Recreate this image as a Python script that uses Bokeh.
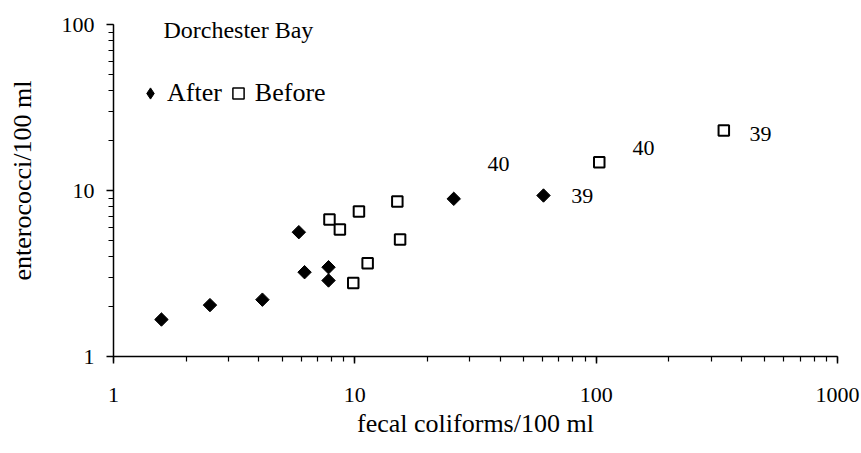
import numpy as np
from bokeh.plotting import figure
from bokeh.models import (ColumnDataSource, Range1d, NumeralTickFormatter, Legend, LegendItem,
                          Label, LabelSet)
from bokeh.embed import file_html
from bokeh.resources import INLINE

# Data
after_fc = [1.58, 2.51, 4.14, 5.86, 6.19, 7.78, 7.78, 25.7, 60.5]
after_ent = [1.67, 2.04, 2.20, 5.61, 3.22, 3.45, 2.87, 8.91, 9.33]

before_fc = [7.85, 8.67, 10.4, 15.0, 15.4, 11.3, 9.85, 103, 338]
before_ent = [6.69, 5.82, 7.47, 8.58, 5.07, 3.65, 2.77, 14.8, 23.0]

note_text = ["40", "39", "40", "39"]
note_x = [39.4, 87.6, 157, 480]
note_y = [14.5, 9.24, 18.0, 22.0]

series_names = ["After", "Before"]
title_text = "Dorchester Bay"
x_label = "fecal coliforms/100 ml"
y_label = "enterococci/100 ml"

FONT = "Liberation Serif"

p = figure(width=861, height=453, x_axis_type="log", y_axis_type="log",
           x_range=Range1d(1, 1000), y_range=Range1d(1, 132),
           output_backend="svg", toolbar_location=None,
           min_border_left=113, min_border_right=24, min_border_top=4, min_border_bottom=97)
p.outline_line_color = None
p.xgrid.visible = False
p.ygrid.visible = False
p.background_fill_color = "white"
p.border_fill_color = "white"
p.yaxis.bounds = (1, 100)

for ax in (p.xaxis, p.yaxis):
    ax.formatter = NumeralTickFormatter(format="0")
    ax.major_label_text_font = FONT
    ax.major_label_text_font_size = "22px"
    ax.major_label_text_color = "black"
    ax.axis_label_text_font = FONT
    ax.axis_label_text_font_size = "26px"
    ax.axis_label_text_font_style = "normal"
    ax.axis_label_text_color = "black"
    ax.axis_line_color = "black"
    ax.axis_line_width = 1.5
    ax.major_tick_line_color = "black"
    ax.minor_tick_line_color = "black"
    ax.major_tick_line_width = 1.5
    ax.minor_tick_line_width = 1.2
    ax.major_tick_in = 0
    ax.major_tick_out = 7
    ax.minor_tick_in = 0
    ax.minor_tick_out = 5

p.xaxis.axis_label = x_label
p.yaxis.axis_label = y_label
p.xaxis.major_label_standoff = 24
p.xaxis.axis_label_standoff = 4
p.yaxis.major_label_standoff = 12
p.yaxis.axis_label_standoff = 22

src_a = ColumnDataSource(dict(x=after_fc, y=after_ent))
src_b = ColumnDataSource(dict(x=before_fc, y=before_ent))

# legend-key renderers (zero size in the plot, hidden under the real markers)
leg_a = p.scatter("x", "y", source=src_a, marker="diamond", size=0,
                  fill_color="black", line_color="black", line_width=1)
leg_b = p.scatter("x", "y", source=src_b, marker="square", size=0,
                  fill_color="white", line_color="black", line_width=1.5)

p.scatter("x", "y", source=src_a, marker="square", angle=np.pi / 4, size=9.5,
          fill_color="black", line_color="black", line_width=1)
p.scatter("x", "y", source=src_b, marker="square", size=10.5,
          fill_color="white", line_color="black", line_width=2)

src_n = ColumnDataSource(dict(x=note_x, y=note_y, t=note_text))
p.add_layout(LabelSet(x="x", y="y", text="t", source=src_n, text_align="center",
                      text_baseline="middle", text_font=FONT, text_font_size="22px",
                      text_color="black"))

p.add_layout(Label(x=1.61, y=93.3, text=title_text, text_align="left", text_baseline="alphabetic",
                   text_font=FONT, text_font_size="24px", text_color="black"))

legend = Legend(items=[LegendItem(label=series_names[0], renderers=[leg_a]),
                       LegendItem(label=series_names[1], renderers=[leg_b])],
                orientation="horizontal", location=(23, 248),
                label_text_font=FONT, label_text_font_size="26px", label_text_color="black",
                glyph_width=28, glyph_height=28, label_height=28, label_standoff=3, spacing=2,
                padding=0, margin=0, border_line_color=None, background_fill_alpha=0)
p.add_layout(legend)

open("out.html", "w").write(file_html(p, INLINE))
